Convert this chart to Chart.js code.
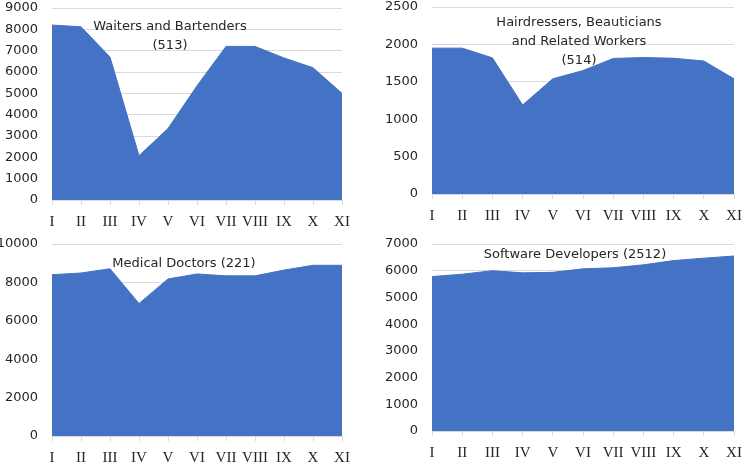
<!DOCTYPE html>
<html>
<head>
<meta charset="utf-8">
<script src="https://cdn.jsdelivr.net/npm/chart.js@4.4.0/dist/chart.umd.min.js"></script>
<style>
  html, body { margin: 0; padding: 0; background: #fff; }
  #wrap { position: relative; width: 750px; height: 473px; overflow: hidden; }
  canvas { position: absolute; }
</style>
</head>
<body>
<div id="wrap">
  <canvas id="c1" width="375" height="236" style="left:0;top:0"></canvas>
  <canvas id="c2" width="375" height="236" style="left:375px;top:0"></canvas>
  <canvas id="c3" width="375" height="237" style="left:0;top:236px"></canvas>
  <canvas id="c4" width="375" height="237" style="left:375px;top:236px"></canvas>
</div>
<script>
// months I..XI
const months = ['I', 'II', 'III', 'IV', 'V', 'VI', 'VII', 'VIII', 'IX', 'X', 'XI'];

const waiters = [8200, 8120, 6700, 2080, 3350, 5350, 7200, 7200, 6660, 6200, 5000];
const hairdressers = [1950, 1950, 1820, 1190, 1540, 1650, 1812, 1825, 1815, 1778, 1540];
const doctors = [8400, 8490, 8710, 6900, 8180, 8440, 8340, 8340, 8640, 8890, 8890];
const developers = [5780, 5870, 6000, 5920, 5940, 6070, 6110, 6220, 6380, 6470, 6550];

const waitersTicks = { max: 9000, step: 1000 };
const hairdressersTicks = { max: 2500, step: 500 };
const doctorsTicks = { max: 10000, step: 2000 };
const developersTicks = { max: 7000, step: 1000 };

const textColor = '#262626';
const gridColor = '#d9d9d9';
const areaColor = '#4472C4';

// title text drawn on top of the plot area, like the excel chart
const innerTitle = {
  id: 'innerTitle',
  afterDatasetsDraw(chart, args, opts) {
    const { ctx, chartArea } = chart;
    ctx.save();
    ctx.font = '13px "DejaVu Sans", sans-serif';
    ctx.fillStyle = textColor;
    ctx.textAlign = 'center';
    ctx.textBaseline = 'middle';
    opts.lines.forEach((line, i) => {
      ctx.fillText(line, chartArea.left + opts.dx, chartArea.top + opts.dy + i * 19);
    });
    ctx.restore();
  }
};

function makeChart(id, values, ticks, title, box) {
  return new Chart(document.getElementById(id), {
    type: 'line',
    data: {
      labels: months,
      datasets: [{
        data: values,
        fill: 'origin',
        backgroundColor: areaColor,
        borderColor: areaColor,
        borderWidth: 1,
        pointRadius: 0,
        pointHoverRadius: 0,
        tension: 0
      }]
    },
    options: {
      responsive: false,
      animation: false,
      devicePixelRatio: 1,
      layout: { autoPadding: false, padding: { top: box.top, right: box.right, left: 0, bottom: 0 } },
      plugins: {
        legend: { display: false },
        tooltip: { enabled: false },
        innerTitle: title
      },
      scales: {
        x: {
          offset: false,
          grid: { display: true, drawOnChartArea: false, drawTicks: true, tickLength: 5, color: gridColor },
          border: { display: true, color: gridColor },
          ticks: {
            color: textColor,
            padding: 8,
            maxRotation: 0,
            autoSkip: false,
            font: { family: '"Liberation Serif", serif', size: 15 }
          },
          afterFit(scale) { scale.height = box.xh; }
        },
        y: {
          min: 0,
          max: ticks.max,
          grid: { color: gridColor, drawTicks: false },
          border: { display: false },
          ticks: {
            stepSize: ticks.step,
            color: textColor,
            padding: 14,
            font: { family: '"DejaVu Sans", sans-serif', size: 13 },
            callback: (v) => String(v)
          },
          afterFit(scale) {
            scale.width = box.yw;
            // labels may overhang the plot top, as in the original
            scale.paddingTop = 0;
            scale.paddingBottom = 0;
          }
        }
      }
    },
    plugins: [innerTitle]
  });
}

makeChart('c1', waiters, waitersTicks,
  { lines: ['Waiters and Bartenders', '(513)'], dx: 118, dy: 19 },
  { top: 8, right: 33, xh: 36, yw: 52 });

makeChart('c2', hairdressers, hairdressersTicks,
  { lines: ['Hairdressers, Beauticians', 'and Related Workers', '(514)'], dx: 147, dy: 15.5 },
  { top: 7, right: 16, xh: 42, yw: 57 });

makeChart('c3', doctors, doctorsTicks,
  { lines: ['Medical Doctors (221)'], dx: 132, dy: 19.5 },
  { top: 8, right: 33, xh: 37, yw: 52 });

makeChart('c4', developers, developersTicks,
  { lines: ['Software Developers (2512)'], dx: 143, dy: 10.5 },
  { top: 8, right: 16, xh: 42, yw: 57 });
</script>
</body>
</html>
